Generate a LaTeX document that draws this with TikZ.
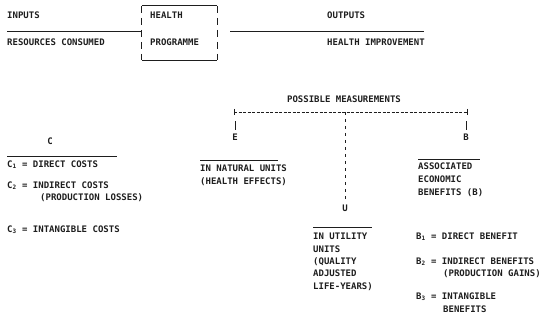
\documentclass[tikz,border=0pt]{standalone}
\usepackage{fontspec}
\setmonofont{DejaVu Sans Mono}
\usetikzlibrary{positioning}
\definecolor{TWInk}{HTML}{1E1E1E}

\begin{document}
\begin{tikzpicture}[x=1pt,y=-1pt,
  txt/.style={font=\ttfamily\bfseries\fontsize{9}{10}\selectfont, TWInk, anchor=west, inner sep=0pt, text height=6.4pt, text depth=0pt},
  letter/.style={txt, anchor=center},
  rule/.style={TWInk, line width=0.8pt},
  side/.style={TWInk, line width=0.8pt, dash pattern=on 7pt off 5pt},
  measure/.style={TWInk, line width=0.8pt, dash pattern=on 3pt off 1.5pt},
  dots/.style={TWInk, line width=1pt, dash pattern=on 3pt off 4pt}]
  \useasboundingbox (0,0) rectangle (542,326);

  \node[txt] (inputs) at (7,15) {INPUTS};
  \node[txt] (resources) at (7,42) {RESOURCES CONSUMED};
  \node[minimum width=75pt, minimum height=54pt, inner sep=0pt] (prog) at (179.5,33) {};
  \draw[rule] (prog.north west) -- (prog.north east);
  \draw[rule] (prog.south west) -- (prog.south east);
  \draw[side] (prog.north west) -- (prog.south west);
  \draw[side] (prog.north east) -- (prog.south east);
  \node[txt] (health) at (150,15) {HEALTH};
  \node[txt] (programme) at (150,42) {PROGRAMME};
  \node[txt] (outputs) at (327,15) {OUTPUTS};
  \node[txt] (improve) at (327,42) {HEALTH IMPROVEMENT};
  \coordinate (inL) at (7,31);
  \coordinate (outL) at (230,31);
  \coordinate (outR) at (424,31);
  \draw[rule] (inL) -- (inL -| prog.west);
  \draw[rule] (outL) -- (outR);

  \node[letter] (possible) at (344,99) {POSSIBLE MEASUREMENTS};
  \coordinate (mL) at (234,112);
  \coordinate (mM) at (345,112);
  \coordinate (mR) at (467,112);
  \draw[measure] (mL) -- (mR);
  \draw[rule] ([yshift=3pt]mL) -- ([yshift=-3pt]mL);
  \draw[rule] ([yshift=3pt]mR) -- ([yshift=-3pt]mR);

  \node[letter] (E) at (235,137) {E};
  \node[letter] (U) at (345,208) {U};
  \node[letter] (B) at (466,137) {B};
  \draw[rule] ([yshift=4pt]E.north) -- ([yshift=13pt]E.north);
  \draw[rule] ([yshift=4pt]B.north) -- ([yshift=13pt]B.north);
  \draw[dots] (mM) -- ([yshift=4pt]U.north);

  \node[letter] (C) at (50,141) {C};
  \node[txt] (c1) at (7,164) {C\textsubscript{1} = DIRECT COSTS};
  \node[txt] (c2) at (7,185) {C\textsubscript{2} = INDIRECT COSTS};
  \node[txt] (losses) at (40,197) {(PRODUCTION LOSSES)};
  \node[txt] (c3) at (7,229) {C\textsubscript{3} = INTANGIBLE COSTS};
  \draw[rule] ([yshift=8pt]c1.west) -- ++(110,0);

  \node[txt] (natural) at (200,168) {IN NATURAL UNITS};
  \node[txt] (effects) at (200,181) {(HEALTH EFFECTS)};
  \draw[rule] ([yshift=8pt]natural.west) -- ++(78,0);

  \node[txt] (utility) at (313,236) {IN UTILITY};
  \node[txt] (units) at (313,249) {UNITS};
  \node[txt] (quality) at (313,261) {(QUALITY};
  \node[txt] (adjusted) at (313,273) {ADJUSTED};
  \node[txt] (years) at (313,286) {LIFE-YEARS)};
  \draw[rule] ([yshift=9pt]utility.west) -- ++(59,0);

  \node[txt] (assoc) at (418,166) {ASSOCIATED};
  \node[txt] (economic) at (418,179) {ECONOMIC};
  \node[txt] (benefits) at (418,192) {BENEFITS (B)};
  \draw[rule] ([yshift=7pt]assoc.west) -- ++(62,0);

  \node[txt] (b1) at (416,236) {B\textsubscript{1} = DIRECT BENEFIT};
  \node[txt] (b2) at (416,261) {B\textsubscript{2} = INDIRECT BENEFITS};
  \node[txt] (gains) at (443,273) {(PRODUCTION GAINS)};
  \node[txt] (b3) at (416,296) {B\textsubscript{3} = INTANGIBLE};
  \node[txt] (b3b) at (443,309) {BENEFITS};
\end{tikzpicture}
\end{document}
